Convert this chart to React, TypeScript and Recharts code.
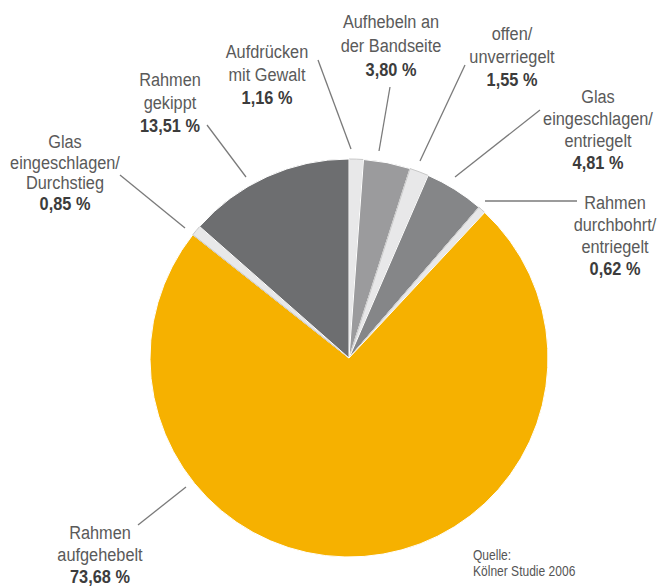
import { PieChart, Pie, Cell } from 'recharts'

// Einbruchswege, im Uhrzeigersinn ab 12 Uhr
const sliceNames = [
  'Aufdrücken mit Gewalt',
  'Aufhebeln an der Bandseite',
  'offen/unverriegelt',
  'Glas eingeschlagen/entriegelt',
  'Rahmen durchbohrt/entriegelt',
  'Rahmen aufgehebelt',
  'Glas eingeschlagen/Durchstieg',
  'Rahmen gekippt',
]
const sliceLabelLines = [
  ['Aufdrücken', 'mit Gewalt'],
  ['Aufhebeln an', 'der Bandseite'],
  ['offen/', 'unverriegelt'],
  ['Glas', 'eingeschlagen/', 'entriegelt'],
  ['Rahmen', 'durchbohrt/', 'entriegelt'],
  ['Rahmen', 'aufgehebelt'],
  ['Glas', 'eingeschlagen/', 'Durchstieg'],
  ['Rahmen', 'gekippt'],
]
const shares = [1.16, 3.8, 1.55, 4.81, 0.62, 73.68, 0.85, 13.51]

const sliceColors = ['#e8e8e9', '#9b9b9d', '#e8e8e9', '#858688', '#e8e8e9', '#f6b100', '#e8e8e9', '#6d6e70']
const sliceStrokes = ['#c8c8c8', '#ffffff', '#c8c8c8', '#ffffff', '#c8c8c8', '#ffffff', '#c8c8c8', '#ffffff']

// label placement: text centre of first row + leader line (outer end, pie end)
const labelLayout = [
  { tx: 267, ty: 52, lh: 23, line: [318, 60, 351, 149] },
  { tx: 391, ty: 22, lh: 24, line: [390, 87, 379, 151] },
  { tx: 512, ty: 34, lh: 23, line: [465, 65, 420, 161] },
  { tx: 598, ty: 97, lh: 22, line: [540, 110, 455, 177] },
  { tx: 615, ty: 203, lh: 22, line: [485, 201, 577, 201] },
  { tx: 100, ty: 533, lh: 22, line: [138, 525, 186, 487] },
  { tx: 65, ty: 142, lh: 20.5, line: [120, 175, 185, 228] },
  { tx: 170, ty: 80, lh: 23, line: [207, 125, 246, 177] },
]

const chartData = sliceNames.map((name, i) => ({ name, value: shares[i] }))

const FONT = '"Liberation Sans", Arial, sans-serif'
const NARROW = 0.86

const fmt = (v: number) => v.toFixed(2).replace('.', ',') + ' %'

// squeeze text horizontally around its anchor x, like a condensed face
const squeeze = (x: number) => `translate(${x},0) scale(${NARROW},1) translate(${-x},0)`

function renderLabel(props: any) {
  const i = props.index
  const l = labelLayout[i]
  const rows = sliceLabelLines[i]
  return (
    <g key={`lbl-${i}`}>
      <line x1={l.line[0]} y1={l.line[1]} x2={l.line[2]} y2={l.line[3]} stroke="#7a7a7a" strokeWidth={1.3} />
      <text
        x={l.tx}
        y={l.ty}
        transform={squeeze(l.tx)}
        textAnchor="middle"
        dominantBaseline="central"
        fontFamily={FONT}
        fontSize={19}
      >
        {rows.map((r, k) => (
          <tspan key={k} x={l.tx} dy={k === 0 ? 0 : l.lh} fill="#5a5a5a">{r}</tspan>
        ))}
        <tspan x={l.tx} dy={l.lh} fill="#3c3c3c" fontWeight="bold">{fmt(shares[i])}</tspan>
      </text>
    </g>
  )
}

export default function App() {
  return (
    <div style={{ position: 'absolute', left: 0, top: 0, width: 657, height: 588, background: '#fff' }}>
      <PieChart width={657} height={588} margin={{ top: 0, right: 0, bottom: 0, left: 0 }}>
        <Pie
          data={chartData}
          dataKey="value"
          nameKey="name"
          cx={349}
          cy={358}
          innerRadius={0}
          outerRadius={199}
          startAngle={90}
          endAngle={-270}
          label={renderLabel}
          labelLine={false}
          isAnimationActive={false}
        >
          {chartData.map((_, i) => (
            <Cell key={i} fill={sliceColors[i]} stroke={sliceStrokes[i]} strokeWidth={1} />
          ))}
        </Pie>
        <text
          x={473}
          y={555}
          transform={squeeze(473)}
          fontFamily={FONT}
          fontSize={14}
          fill="#555"
          dominantBaseline="central"
        >
          <tspan x={473} dy={0}>Quelle:</tspan>
          <tspan x={473} dy={16}>Kölner Studie 2006</tspan>
        </text>
      </PieChart>
    </div>
  )
}
